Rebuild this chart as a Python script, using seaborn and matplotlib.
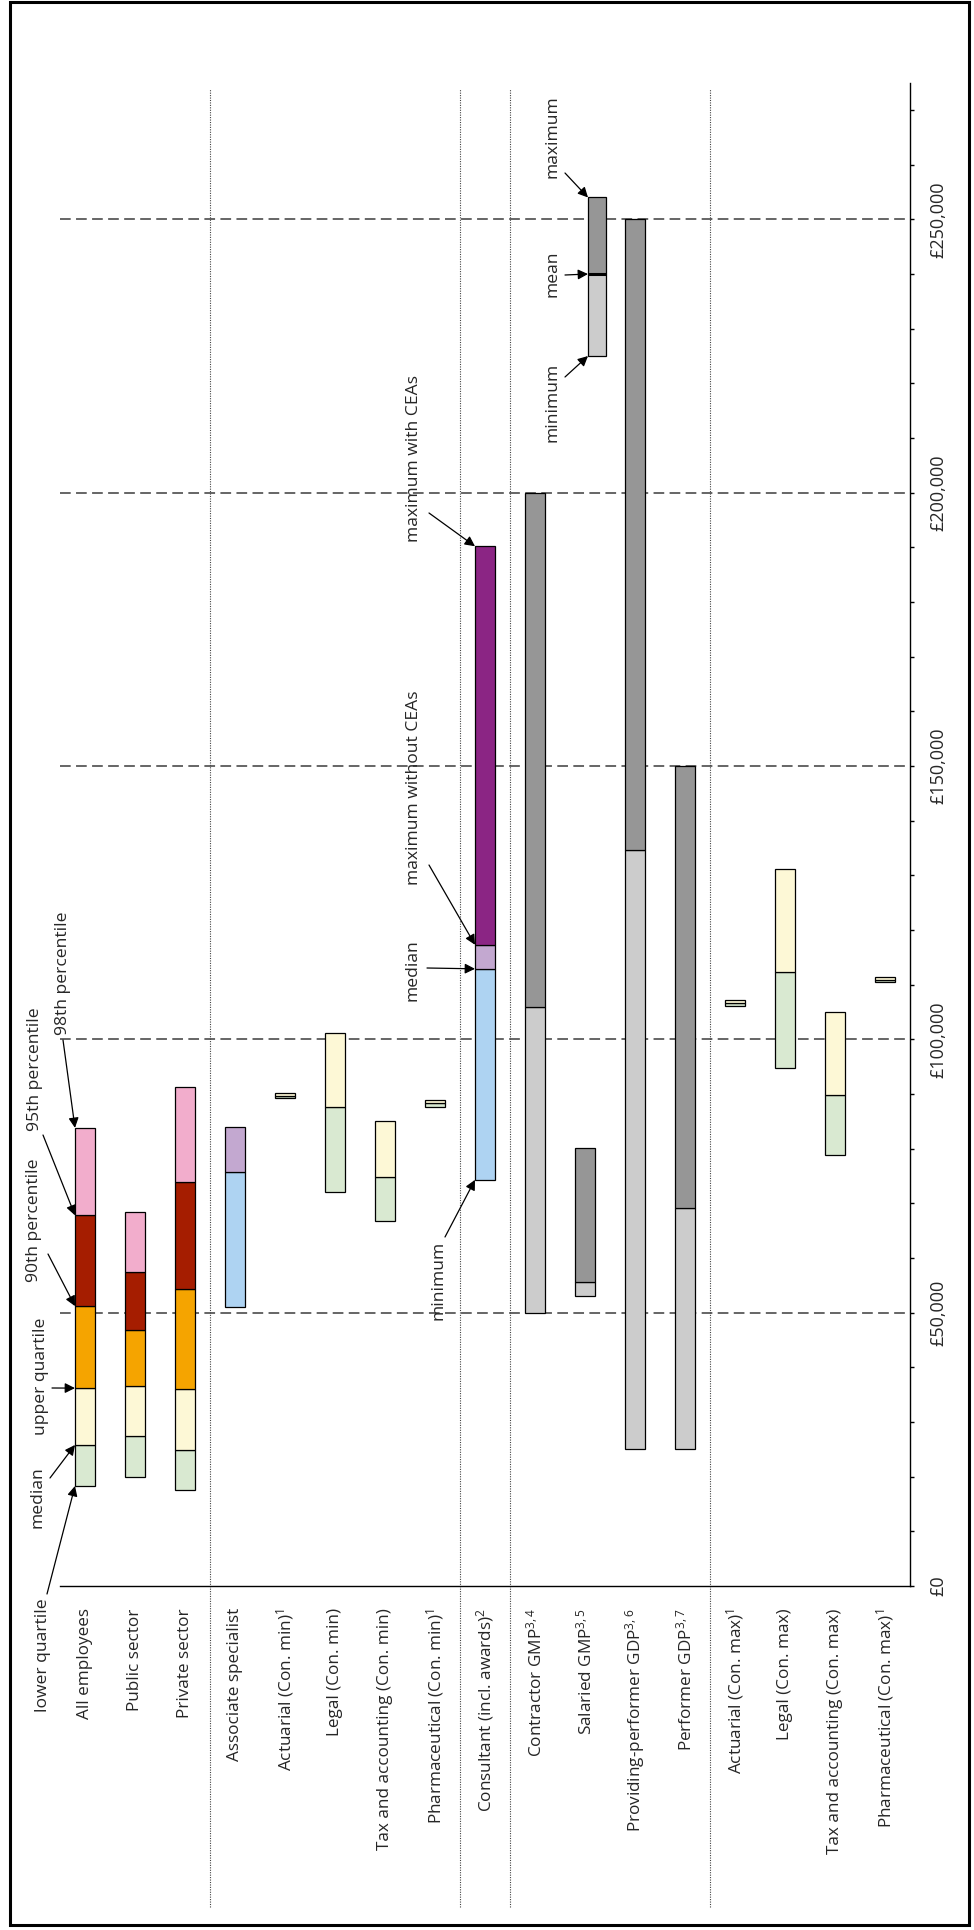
import numpy as np
import pandas as pd
import matplotlib
matplotlib.use('Agg')
import matplotlib.pyplot as plt
import matplotlib.transforms as mtransforms
from matplotlib.patches import Rectangle
import seaborn as sns

# categories, left to right (the chart is printed sideways)
categories = ['All employees', 'Public sector', 'Private sector', 'Associate specialist',
              'Actuarial (Con. min)', 'Legal (Con. min)', 'Tax and accounting (Con. min)',
              'Pharmaceutical (Con. min)', 'Consultant (incl. awards)', 'Contractor GMP',
              'Salaried GMP', 'Providing-performer GDP', 'Performer GDP',
              'Actuarial (Con. max)', 'Legal (Con. max)', 'Tax and accounting (Con. max)',
              'Pharmaceutical (Con. max)']
tick_labels = ['All employees', 'Public sector', 'Private sector', 'Associate specialist',
               'Actuarial (Con. min)$^{1}$', 'Legal (Con. min)', 'Tax and accounting (Con. min)',
               'Pharmaceutical (Con. min)$^{1}$', 'Consultant (incl. awards)$^{2}$',
               'Contractor GMP$^{3,4}$', 'Salaried GMP$^{3,5}$',
               'Providing-performer GDP$^{3,6}$', 'Performer GDP$^{3,7}$',
               'Actuarial (Con. max)$^{1}$', 'Legal (Con. max)',
               'Tax and accounting (Con. max)', 'Pharmaceutical (Con. max)$^{1}$']

# earnings distribution
earn_groups = ['All employees', 'Public sector', 'Private sector']
earn_lq = [18300, 20000, 17500]
earn_median = [25800, 27500, 24800]
earn_uq = [36200, 36600, 36000]
earn_p90 = [51200, 46900, 54400]
earn_p95 = [67800, 57400, 73900]
earn_p98 = [83800, 68400, 91300]

# hospital doctors
doc_groups = ['Associate specialist', 'Consultant (incl. awards)']
doc_min = [51000, 74300]
doc_median = [75700, 112900]
doc_max_no_cea = [83900, 117300]
cea_groups = ['Consultant (incl. awards)']
doc_max_cea = [190200]

# comparator professions
comp_groups = ['Actuarial (Con. min)', 'Legal (Con. min)', 'Tax and accounting (Con. min)',
               'Pharmaceutical (Con. min)', 'Actuarial (Con. max)', 'Legal (Con. max)',
               'Tax and accounting (Con. max)', 'Pharmaceutical (Con. max)']
comp_lq = [89200, 72000, 66700, 87700, 106100, 94800, 78800, 110400]
comp_median = [89700, 87700, 74800, 88300, 106600, 112300, 89900, 110900]
comp_uq = [90200, 101200, 85100, 88900, 107200, 131200, 105000, 111400]

# GPs and GDPs
gp_groups = ['Contractor GMP', 'Salaried GMP', 'Providing-performer GDP', 'Performer GDP']
gp_min = [50000, 53100, 25000, 25000]
gp_mean = [105900, 55600, 134600, 69200]
gp_max = [200000, 80200, 250000, 150000]

# key bar (min / mean / max)
key_min, key_mean, key_max = 225000, 240000, 254000

GREEN = '#d9e9d1'
YELLOW = '#fdf8d6'
ORANGE = '#f5a400'
RED = '#a51d00'
PINK = '#f2adcc'
BLUE = '#aed3f2'
LAVENDER = '#c3a8d0'
PURPLE = '#8b2584'
LGREY = '#cccccc'
DGREY = '#969696'

segments = [
    (earn_groups, earn_lq, earn_median, GREEN),
    (earn_groups, earn_median, earn_uq, YELLOW),
    (earn_groups, earn_uq, earn_p90, ORANGE),
    (earn_groups, earn_p90, earn_p95, RED),
    (earn_groups, earn_p95, earn_p98, PINK),
    (doc_groups, doc_min, doc_median, BLUE),
    (doc_groups, doc_median, doc_max_no_cea, LAVENDER),
    (cea_groups, doc_max_no_cea[1:], doc_max_cea, PURPLE),
    (comp_groups, comp_lq, comp_median, GREEN),
    (comp_groups, comp_median, comp_uq, YELLOW),
    (gp_groups, gp_min, gp_mean, LGREY),
    (gp_groups, gp_mean, gp_max, DGREY),
]

sns.set_style('white')
plt.rcParams['font.family'] = ['Open Sans', 'DejaVu Sans']
plt.rcParams['mathtext.fontset'] = 'custom'
plt.rcParams['mathtext.rm'] = 'Open Sans'
plt.rcParams['mathtext.it'] = 'Open Sans:italic'
plt.rcParams['mathtext.bf'] = 'Open Sans:bold'

W, H = 974, 1930
fig = plt.figure(figsize=(W / 100, H / 100), dpi=100)
ax = fig.add_axes([60 / W, 344 / H, 850 / W, 1503.3 / H])

YMAX = 275000

for groups, low, high, col in segments:
    d = pd.DataFrame({'category': groups, 'low': low, 'high': high})
    d['pos'] = d['category'].map(categories.index)
    d = d.sort_values('pos')
    d['height'] = d['high'] - d['low']
    sns.barplot(data=d, x='category', y='height', order=categories, bottom=d['low'].values,
                color=col, saturation=1, width=0.4, edgecolor='black', linewidth=0.9,
                errorbar=None, ax=ax, zorder=3)

# key bar
key_x = 10.24
ax.bar(key_x, key_mean - key_min, bottom=key_min, width=0.36, color=LGREY,
       edgecolor='black', linewidth=0.9, zorder=3)
ax.bar(key_x, key_max - key_mean, bottom=key_mean, width=0.36, color=DGREY,
       edgecolor='black', linewidth=0.9, zorder=3)
ax.plot([key_x - 0.18, key_x + 0.18], [key_mean, key_mean], color='black', lw=2.2,
        solid_capstyle='butt', zorder=4)

ax.set_xlim(-0.5, len(categories) - 0.5)
ax.set_ylim(0, YMAX)
ax.set_xlabel('')
ax.set_ylabel('')

# dashed reference lines
for v in range(50000, 250001, 50000):
    ax.axhline(v, color='#3c3c3c', lw=1.1, dashes=(7, 3.5), zorder=1)

# dotted group separators
trans = mtransforms.blended_transform_factory(ax.transData, ax.transAxes)
for xs in [2.5, 7.5, 8.5, 12.5]:
    ax.plot([xs, xs], [-0.2135, 0.996], transform=trans, color='#444444', lw=0.8,
            ls=(0, (1, 1.2)), clip_on=False, zorder=1)

# axes styling
for s in ['left', 'top']:
    ax.spines[s].set_visible(False)
for s in ['right', 'bottom']:
    ax.spines[s].set_color('black')
    ax.spines[s].set_linewidth(1.0)

ax.set_xticks(range(len(categories)))
ax.set_xticklabels(tick_labels, rotation=90, fontsize=12.3, va='top', ha='center')
ax.set_xticks(np.arange(-0.5, len(categories)), minor=True)
ax.tick_params(axis='x', which='major', length=0, pad=16)
ax.tick_params(axis='x', which='minor', length=6, width=1, direction='out', color='black')

ax.yaxis.tick_right()
ax.set_yticks(range(0, 250001, 50000))
ax.set_yticklabels(['£{:,}'.format(v) for v in range(0, 250001, 50000)], fontsize=13)
ax.set_yticks(range(0, 270001, 10000), minor=True)
ax.tick_params(axis='y', which='both', length=3, width=1, direction='out', color='black',
               right=True, left=False, pad=11)
plt.setp(ax.get_yticklabels(), rotation=90, va='center', ha='left')


def px(x, y):
    # figure pixel position -> data coordinates (for text/arrow placement)
    return ((x - 60) / 50 - 0.5, (1586 - y) / 1503.3 * YMAX)


annotations = [
    ('lower quartile', (43, 1655), (47, 1594), (0 - 0.2, earn_lq[0])),
    ('median', (37.5, 1497), (50, 1478), (0 - 0.2, earn_median[0])),
    ('upper quartile', (41, 1376), (52, 1388), (0 - 0.2, earn_uq[0])),
    ('90th percentile', (34, 1220), (48, 1254), (0 - 0.2, earn_p90[0])),
    ('95th percentile', (35, 1069), (43, 1135), (0 - 0.2, earn_p95[0])),
    ('98th percentile', (63, 973), (63, 1040), (0 - 0.2, earn_p98[0])),
    ('minimum', (439, 1280), (445, 1237), (8 - 0.2, doc_min[1])),
    ('median', (412, 970), (427, 968), (8 - 0.2, doc_median[1])),
    ('maximum without CEAs', (414, 788), (429, 865), (8 - 0.2, doc_max_no_cea[1])),
    ('maximum with CEAs', (414, 458), (429, 513), (8 - 0.2, doc_max_cea[0])),
    ('maximum', (553, 137), (565, 173), (key_x - 0.18, key_max)),
    ('mean', (553, 274), (565, 275), (key_x - 0.18, key_mean)),
    ('minimum', (553, 402), (565, 377), (key_x - 0.18, key_min)),
]
for text, tpos, start, tip in annotations:
    ax.text(*px(*tpos), text, rotation=90, ha='center', va='center', fontsize=12.6,
            zorder=5, clip_on=False)
    ax.annotate('', xy=tip, xytext=px(*start), annotation_clip=False,
                arrowprops=dict(arrowstyle='-|>', color='black', lw=0.9,
                                mutation_scale=15, shrinkA=0, shrinkB=0), zorder=5)

# outer frame
fig.patches.append(Rectangle((10 / W, 1 - 1925 / H), 959 / W, 1923 / H, transform=fig.transFigure,
                             fill=False, edgecolor='black', linewidth=2.2))

fig.savefig('out.png', dpi=100)
